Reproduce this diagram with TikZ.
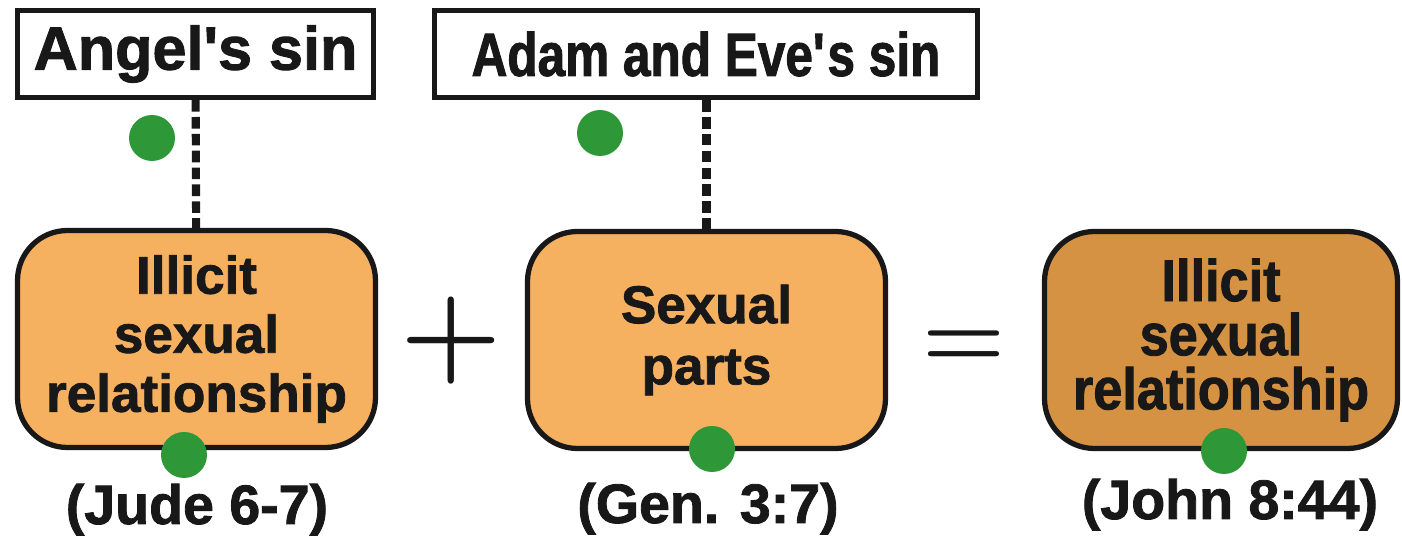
\documentclass[tikz,border=0pt]{standalone}
\usepackage{fontspec}
\newfontfamily\heavyfont{Liberation Sans}[BoldFeatures={FakeBold=1.5}]
\newfontfamily\narrowfont{Liberation Sans}[FakeStretch=0.81,BoldFeatures={FakeBold=1.5}]
\newfontfamily\tightfont{Liberation Sans}[FakeStretch=0.89,BoldFeatures={FakeBold=1.5}]
\usepackage{xcolor}

\definecolor{boxorange}{RGB}{245,176,96}
\definecolor{boxbrown}{RGB}{212,146,66}
\definecolor{dotgreen}{RGB}{46,152,56}
\definecolor{inkblack}{RGB}{24,24,24}

\tikzset{
  sinbox/.style={draw=inkblack, line width=1.5pt, minimum height=0.87cm, inner sep=0pt,
    font=\heavyfont\bfseries\fontsize{17.4}{20}\selectfont},
  actbox/.style={draw=inkblack, line width=1.5pt, rounded corners=0.5cm, minimum width=3.58cm,
    minimum height=2.17cm, align=center, inner sep=0pt},
  reflabel/.style={anchor=base, font=\heavyfont\bfseries\fontsize{15.8}{18}\selectfont},
  dot/.style={circle, fill=dotgreen, minimum size=0.46cm, inner sep=0pt},
  sign/.style={font=\bfseries\fontsize{33}{40}\selectfont}
}

\begin{document}
\begin{tikzpicture}[every node/.style={text=inkblack}]
        \useasboundingbox (0,0) rectangle (14.02,5.37);

        % Sins
        \node[sinbox, minimum width=3.56cm] (angel) at (1.955,4.83) {Angel\textquotesingle s sin};
        \node[sinbox, minimum width=5.43cm, font=\narrowfont\bfseries\fontsize{17.4}{20}\selectfont] (adam) at (7.06,4.83) {Adam and Eve\textquotesingle s sin};

        % Boxes
        \node[actbox, fill=boxorange, font=\heavyfont\bfseries\fontsize{15.1}{16.8}\selectfont] (illicit) at (1.965,1.98) {Illicit\\sexual\\relationship};
        \node[actbox, fill=boxorange, font=\heavyfont\bfseries\fontsize{15.1}{17.4}\selectfont] (parts) at (7.065,1.97) {Sexual\\parts};
        \node[actbox, fill=boxbrown, minimum width=3.53cm, font=\tightfont\bfseries\fontsize{16.7}{15.4}\selectfont] (result) at (12.21,1.97) {Illicit\\sexual\\relationship};

        % Links
        \draw[inkblack, line width=2.3pt, dash pattern=on 3.3pt off 1.5pt] (angel) -- (illicit);
        \draw[inkblack, line width=2.3pt, dash pattern=on 3.3pt off 1.5pt] (adam.south -| parts) -- (parts);

        % Signs
        \node[sign] (plus) at (4.51,1.96) {+};
        \node[sign, font=\bfseries\fontsize{27}{32}\selectfont] (equals) at (9.645,1.88) {=};

        % References
        \node[reflabel] (jude) at (1.97,0.13) {(Jude 6-7)};
        \node[reflabel] (gen) at (7.08,0.14) {(Gen. 3:7)};
        \node[reflabel] (john) at (12.30,0.18) {(John 8:44)};

        % Dots
        \node[dot] (dotA) at (1.52,3.99) {};
        \node[dot] (dotB) at (6.00,4.04) {};
        \node[dot] (dotC) at (1.84,0.82) {};
        \node[dot] (dotD) at (7.12,0.88) {};
        \node[dot] (dotE) at (12.24,0.86) {};
    \end{tikzpicture}
\end{document}
